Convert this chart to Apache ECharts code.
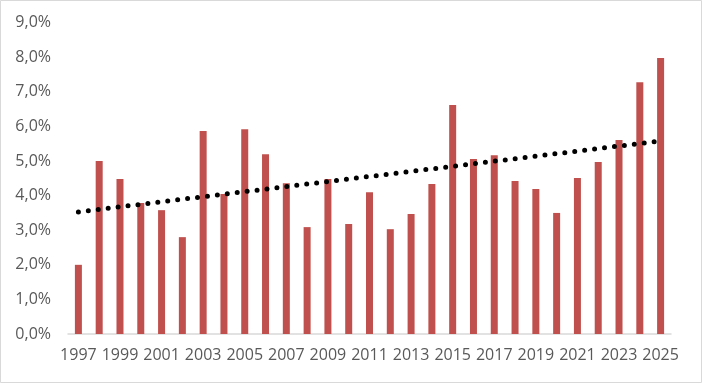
<!DOCTYPE html>
<html><head><meta charset="utf-8">
<script src="https://cdn.jsdelivr.net/npm/echarts@6/dist/echarts.min.js"></script>
<style>html,body{margin:0;padding:0;background:#fff}#c{width:702px;height:383px}</style>
</head><body><div id="c"></div>
<script>
const years = ['1997','1998','1999','2000','2001','2002','2003','2004','2005','2006','2007','2008','2009','2010','2011','2012','2013','2014','2015','2016','2017','2018','2019','2020','2021','2022','2023','2024','2025'];
const values = [2.0,5.0,4.48,3.79,3.58,2.80,5.87,4.05,5.92,5.20,4.36,3.09,4.48,3.18,4.10,3.03,3.47,4.34,6.62,5.06,5.17,4.42,4.19,3.50,4.51,4.97,5.61,7.28,7.98];
const trendStart = 3.53;
const trendEnd = 5.58;
const yTicks = [0,1,2,3,4,5,6,7,8,9];

const trend = years.map((y,i)=> i===0 ? trendStart : (i===years.length-1 ? trendEnd : null));

const chart = echarts.init(document.getElementById('c'), null, {renderer:'canvas'});
chart.setOption({
  animation:false,
  backgroundColor:'#fff',
  graphic:[{type:'rect',shape:{x:0.5,y:0.5,width:701,height:382},style:{fill:'none',stroke:'#d9d9d9',lineWidth:1},silent:true}],
  grid:{left:68,right:31,top:22.7,bottom:49},
  xAxis:{
    type:'category',data:years,
    axisLine:{lineStyle:{color:'#d9d9d9',width:1.5}},
    axisTick:{show:false},
    axisLabel:{interval:1,color:'#595959',fontSize:16,fontFamily:'Open Sans',margin:13}
  },
  yAxis:{
    type:'value',min:yTicks[0],max:yTicks[yTicks.length-1],interval:1,
    splitLine:{show:false},axisLine:{show:false},axisTick:{show:false},
    axisLabel:{color:'#595959',fontSize:16,fontFamily:'Open Sans',margin:17,
      formatter:v=>v.toFixed(1).replace('.',',')+'%'}
  },
  series:[
    {type:'bar',data:values,barWidth:7,itemStyle:{color:'#c0504d'}},
    {type:'line',data:trend,connectNulls:true,showSymbol:false,symbol:'none',z:5,
      lineStyle:{color:'#000',width:5,type:[0,10],cap:'round'}}
  ]
});
</script></body></html>
